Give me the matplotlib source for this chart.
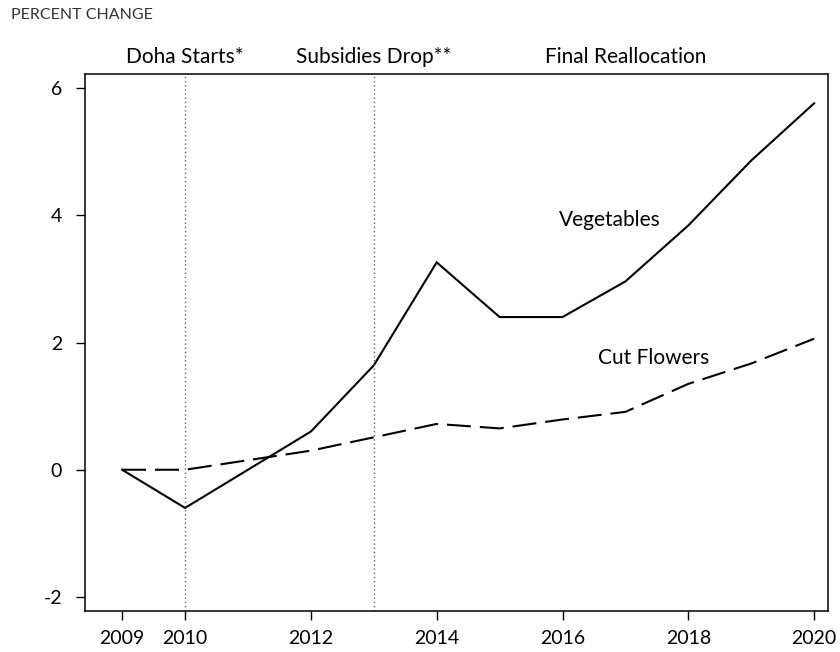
import matplotlib
matplotlib.use("Agg")
import matplotlib.pyplot as plt

plt.rcParams['font.family'] = ['Lato', 'DejaVu Sans']

years = [2009, 2010, 2011, 2012, 2013, 2014, 2015, 2016, 2017, 2018, 2019, 2020]
vegetables = [0.0, -0.6, 0.0, 0.6, 1.64, 3.26, 2.40, 2.40, 2.96, 3.84, 4.86, 5.76]
cut_flowers = [0.0, 0.0, 0.15, 0.30, 0.51, 0.72, 0.65, 0.79, 0.91, 1.35, 1.67, 2.06]

xticks = [2009, 2010, 2012, 2014, 2016, 2018, 2020]
yticks = [-2, 0, 2, 4, 6]

events_x = [2010, 2013]
top_labels = ["Doha Starts*", "Subsidies Drop**", "Final Reallocation"]
top_label_x = [2010, 2013, 2017]

series_labels = ["Vegetables", "Cut Flowers"]
series_label_x = [2016.75, 2017.45]
series_label_y = [3.92, 1.76]

fig = plt.figure(figsize=(8.4, 6.52), dpi=100)
ax = fig.add_axes([85/840, 1 - 611/652, (828 - 85)/840, (611 - 74)/652])

ax.plot(years, vegetables, color='black', lw=1.5, solid_joinstyle='miter')
ax.plot(years, cut_flowers, color='black', lw=1.5, linestyle=(0, (11.5, 4.3)))

for ex in events_x:
    ax.axvline(ex, color='#666666', lw=1.0, linestyle=(0, (1, 2)))

ax.set_xlim(2008.41, 2020.22)
ax.set_ylim(-2.22, 6.22)
ax.set_xticks(xticks)
ax.set_xticklabels([str(t) for t in xticks])
ax.set_yticks(yticks)
ax.set_yticklabels([str(t) for t in yticks])
ax.tick_params(axis='both', direction='out', length=6.5, width=1.0, labelsize=14,
               colors='black')
ax.tick_params(axis='y', pad=10)
ax.tick_params(axis='x', pad=7)
for s in ax.spines.values():
    s.set_linewidth(1.1)
    s.set_color('black')

for lab, lx in zip(top_labels, top_label_x):
    ax.annotate(lab, xy=(lx, 1.0), xycoords=('data', 'axes fraction'),
                xytext=(0, 12), textcoords='offset points',
                ha='center', va='center', fontsize=15, annotation_clip=False)

for lab, lx, ly in zip(series_labels, series_label_x, series_label_y):
    ax.text(lx, ly, lab, ha='center', va='center', fontsize=15)

fig.text(11/840, 1 - 15/652, "PERCENT CHANGE", ha='left', va='center',
         fontsize=11.5, color='#333333')

fig.savefig("out.png", dpi=100)
